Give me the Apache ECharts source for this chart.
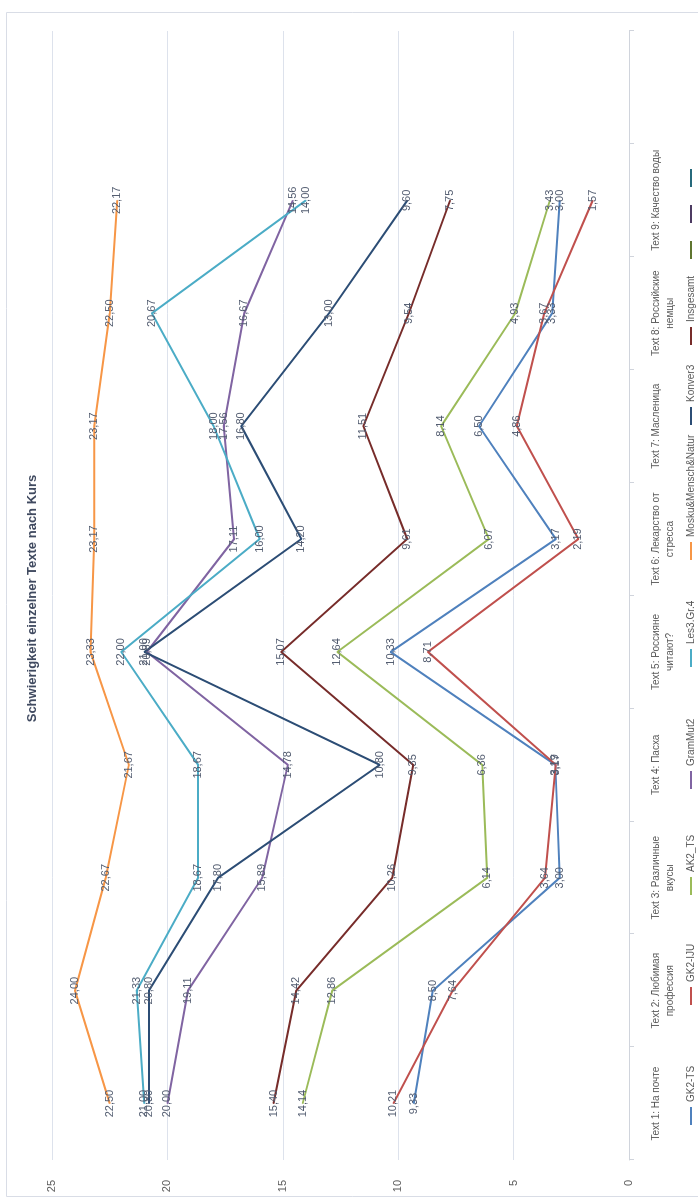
<!DOCTYPE html>
<html>
<head>
<meta charset="utf-8">
<script src="https://cdn.jsdelivr.net/npm/echarts@6/dist/echarts.min.js"></script>
<style>
  html, body { margin: 0; padding: 0; background: #ffffff; overflow: hidden; }
  #page { position: absolute; left: 0; top: 0; width: 698px; height: 1197px; overflow: hidden; }
  /* the chart is laid out landscape and turned a quarter turn to the left */
  #chart {
    position: absolute; left: 0; top: 0;
    width: 1197px; height: 698px;
    transform-origin: 0 0;
    transform: translate(0, 1197px) rotate(-90deg);
  }
</style>
</head>
<body>
<div id="page"><div id="chart"></div></div>
<script>
// ---- data ----
const categories = [
  'Text 1: На почте',
  'Text 2: Любимая\nпрофессия',
  'Text 3: Различные\nвкусы',
  'Text 4: Пасха',
  'Text 5: Россияне\nчитают?',
  'Text 6: Лекарство от\nстресса',
  'Text 7: Масленица',
  'Text 8: Российские\nнемцы',
  'Text 9: Качество воды',
  ''
];
const valueTicks = [0, 5, 10, 15, 20, 25];

const gk2Ts      = [9.33, 8.50, 3.00, 3.19, 10.33, 3.17, 6.50, 3.33, 3.00];
const gk2Iju     = [10.21, 7.64, 3.64, 3.17, 8.71, 2.19, 4.86, 3.67, 1.57];
const ak2Ts      = [14.14, 12.86, 6.14, 6.36, 12.64, 6.07, 8.14, 4.93, 3.43];
const gramMut2   = [20.00, 19.11, 15.89, 14.78, 20.89, 17.11, 17.56, 16.67, 14.56];
const les3Gr4    = [21.00, 21.33, 18.67, 18.67, 22.00, 16.00, 18.00, 20.67, 14.00];
const moskuMN    = [22.50, 24.00, 22.67, 21.67, 23.33, 23.17, 23.17, 22.50, 22.17];
const konver3    = [20.80, 20.80, 17.80, 10.80, 21.00, 14.20, 16.80, 13.00, 9.60];
const insgesamt  = [15.40, 14.42, 10.26, 9.35, 15.07, 9.61, 11.51, 9.54, 7.75];

const seriesNames = ['GK2-TS', 'GK2-IJU', 'AK2_TS', 'GramMut2', 'Les3.Gr.4',
  'Mosku&Mensch&Natur', 'Konver3', 'Insgesamt', ' ', '  ', '   '];
const seriesValues = [gk2Ts, gk2Iju, ak2Ts, gramMut2, les3Gr4, moskuMN, konver3, insgesamt, [], [], []];

// ---- styling ----
const colors = ['#4f81bd', '#c0504d', '#9bbb59', '#8064a2', '#4bacc6', '#f79646',
  '#2c4d75', '#772c2a', '#5f7530', '#4d3b62', '#276a7c'];
const legendLeft = [72, 192, 302, 408, 530, 637, 772, 852, 938, 974, 1010];
const font = "'Liberation Sans', 'Noto Sans', sans-serif";
const textGray = '#595959';
const gridColor = '#dde2ec';

const fmt = v => v.toFixed(2).replace('.', ',');

const chart = echarts.init(document.getElementById('chart'), null, { renderer: 'canvas' });

chart.setOption({
  animation: false,
  backgroundColor: '#ffffff',
  color: colors,
  title: {
    text: 'Schwierigkeit einzelner Texte nach Kurs',
    left: 'center',
    top: 21,
    textStyle: { fontFamily: font, fontSize: 13, fontWeight: 'bold', color: '#404a60' }
  },
  graphic: [{
    type: 'rect',
    shape: { x: 0.5, y: 6.5, width: 1184, height: 700 },
    style: { fill: 'none', stroke: '#d9dde6', lineWidth: 1 },
    silent: true
  }],
  legend: seriesNames.map((n, i) => ({
    data: [n],
    left: legendLeft[i],
    top: 686,
    padding: 0,
    icon: 'rect',
    itemWidth: 18,
    itemHeight: 2,
    itemGap: 0,
    textStyle: { fontFamily: font, fontSize: 10, color: textGray }
  })),
  grid: { left: 37, right: 31, top: 52, bottom: 69, containLabel: false },
  xAxis: {
    type: 'category',
    data: categories,
    boundaryGap: true,
    axisLine: { lineStyle: { color: '#d0d4dc', width: 1 } },
    axisTick: { show: true, length: 5, lineStyle: { color: '#d0d4dc' } },
    axisLabel: {
      interval: 0,
      margin: 20,
      fontFamily: font,
      fontSize: 10,
      color: textGray,
      lineHeight: 14
    }
  },
  yAxis: {
    type: 'value',
    min: valueTicks[0],
    max: valueTicks[valueTicks.length - 1],
    interval: 5,
    axisLine: { show: false },
    axisTick: { show: false },
    splitLine: { lineStyle: { color: gridColor, width: 1 } },
    axisLabel: { margin: 20, fontFamily: font, fontSize: 11, color: textGray }
  },
  series: seriesNames.map((n, i) => ({
    name: n,
    type: 'line',
    data: seriesValues[i],
    symbol: 'circle',
    symbolSize: 1,
    showSymbol: true,
    lineStyle: { width: 2, color: colors[i] },
    itemStyle: { color: colors[i] },
    label: {
      show: true,
      position: 'inside',
      fontFamily: font,
      fontSize: 11,
      color: '#505a6e',
      formatter: p => fmt(p.value)
    }
  }))
});
</script>
</body>
</html>
